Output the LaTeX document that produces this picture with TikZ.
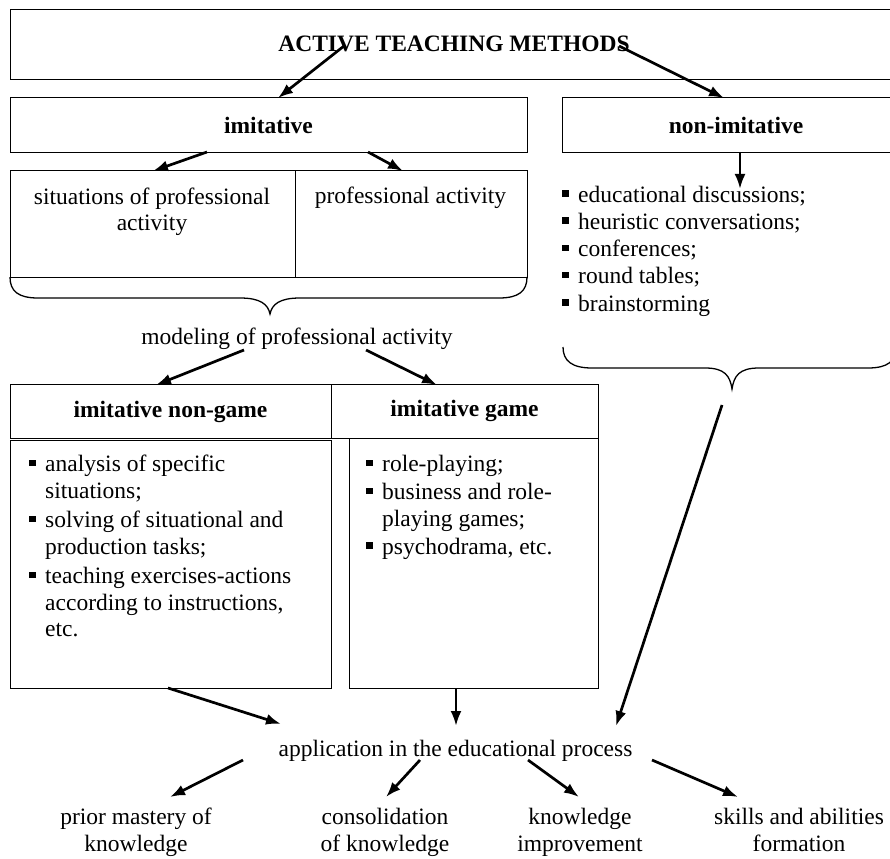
\documentclass[tikz,border=0pt]{standalone}
\usepackage{fontspec}
\setmainfont{Liberation Serif}
\usetikzlibrary{arrows.meta}
\newcommand{\fs}{\fontsize{23.5}{26.5}\selectfont}
\newcommand{\fsb}{\fontsize{23.5}{27.5}\selectfont}
\newcommand{\bl}{\makebox[16pt][l]{\rule[5.5pt]{6.5pt}{6.5pt}}}
\newcommand{\ind}{\hspace*{16pt}}
\begin{document}
\begin{tikzpicture}[x=1pt,y=-1pt,
  box/.style={draw, line width=1.3pt, inner sep=0pt, anchor=north west},
  txt/.style={inner sep=0pt, font=\fs},
  arr/.style={line width=2.7pt, -{Latex[length=15pt,width=11pt]}},
  brc/.style={line width=1.3pt}]
\useasboundingbox (0,0) rectangle (890,858);

% top level
\node[box, minimum width=888pt, minimum height=70pt] (top) at (10,9) {};
\node[txt, font=\fs\bfseries, anchor=base] (title) at (454,52) {ACTIVE TEACHING METHODS};
\node[box, minimum width=517pt, minimum height=55pt] (imit) at (10,97) {};
\node[txt, font=\fs\bfseries, anchor=base] (imitT) at (268.5,133.5) {imitative};
\node[box, minimum width=340pt, minimum height=55pt] (nonimit) at (562,97) {};
\node[txt, font=\fs\bfseries, anchor=base] (nonimitT) at (736,133.5) {non-imitative};

\coordinate (t1) at (344,46);  \coordinate (t1e) at (278,98);
\coordinate (t2) at (619,46);  \coordinate (t2e) at (724,98);
\draw[arr] (t1) -- (t1e);
\draw[arr] (t2) -- (t2e);

% imitative branch
\node[box, minimum width=285pt, minimum height=107pt] (sit) at (10,170) {};
\node[box, minimum width=232pt, minimum height=107pt] (prof) at (295,170) {};
\node[txt, align=center, anchor=north] (sitT) at (152,187.5) {situations of professional\\activity};
\node[txt, anchor=base] (profT) at (410.5,203.5) {professional activity};

\coordinate (i1) at (207,152); \coordinate (i1e) at (153,171);
\coordinate (i2) at (368,152); \coordinate (i2e) at (403,171);
\draw[arr] (i1) -- (i1e);
\draw[arr] (i2) -- (i2e);

\draw[brc] (10,277) .. controls (10,291) and (18,298) .. (38,298) -- (240,298)
  .. controls (260,298) and (268,304) .. (270,314)
  .. controls (272,304) and (280,298) .. (300,298) -- (499,298)
  .. controls (519,298) and (527,291) .. (527,277);

\node[txt, anchor=base] (model) at (297,344) {modeling of professional activity};
\coordinate (m1) at (244,350); \coordinate (m1e) at (156,385);
\coordinate (m2) at (366,350); \coordinate (m2e) at (437,385);
\draw[arr] (m1) -- (m1e);
\draw[arr] (m2) -- (m2e);

% lower boxes
\node[box, minimum width=321pt, minimum height=54pt] (hdrL) at (10,384) {};
\node[txt, font=\fs\bfseries, anchor=base] (hdrLT) at (170.5,417.5) {imitative non-game};
\node[box, minimum width=267pt, minimum height=54pt] (hdrR) at (331,384) {};
\node[txt, font=\fs\bfseries, anchor=base] (hdrRT) at (464.5,416) {imitative game};
\node[box, minimum width=321pt, minimum height=248pt] (lowL) at (10,440) {};
\node[box, minimum width=249pt, minimum height=250pt] (lowR) at (349,438) {};

\node[txt, align=left, anchor=north west] (listL) at (29,455) {%
\bl analysis of specific\\
\ind situations;\\[3pt]
\bl solving of situational and\\
\ind production tasks;\\[3pt]
\bl teaching exercises-actions\\
\ind according to instructions,\\
\ind etc.};
\node[txt, align=left, anchor=north west] (listR) at (366,455) {%
\bl role-playing;\\[1.5pt]
\bl business and role-\\
\ind playing games;\\[1.5pt]
\bl psychodrama, etc.};

% non-imitative branch
\coordinate (n1) at (740,152); \coordinate (n1e) at (740,189);
\draw[arr] (n1) -- (n1e);
\node[txt, align=left, anchor=north west, font=\fontsize{23.5}{27.3}\selectfont] (listN) at (562,185.5) {%
\bl educational discussions;\\
\bl heuristic conversations;\\
\bl conferences;\\
\bl round tables;\\
\bl brainstorming};

\draw[brc] (563,347) .. controls (563,361) and (572,368) .. (592,368) -- (705,368)
  .. controls (725,368) and (730,376) .. (732,389)
  .. controls (734,376) and (739,368) .. (759,368) -- (868,368)
  .. controls (888,368) and (896,361) .. (896,347);

% application
\node[txt, anchor=base] (app) at (455.5,756) {application in the educational process};
\coordinate (r1) at (722,405); \coordinate (r1e) at (616,726);
\coordinate (l1) at (168,688); \coordinate (l1e) at (281,724);
\coordinate (c1) at (456,688); \coordinate (c1e) at (456,726);
\draw[arr] (r1) -- (r1e);
\draw[arr] (l1) -- (l1e);
\draw[arr] (c1) -- (c1e);

\coordinate (a1) at (243,760); \coordinate (a1e) at (170,797);
\coordinate (a2) at (420,760); \coordinate (a2e) at (386,797);
\coordinate (a3) at (528,760); \coordinate (a3e) at (579,797);
\coordinate (a4) at (652,760); \coordinate (a4e) at (738,797);
\draw[arr] (a1) -- (a1e);
\draw[arr] (a2) -- (a2e);
\draw[arr] (a3) -- (a3e);
\draw[arr] (a4) -- (a4e);

\node[txt, align=center, anchor=north, font=\fsb] (b1) at (136,807.5) {prior mastery of\\knowledge};
\node[txt, align=center, anchor=north, font=\fsb] (b2) at (385,807.5) {consolidation\\of knowledge};
\node[txt, align=center, anchor=north, font=\fsb] (b3) at (580,807.5) {knowledge\\improvement};
\node[txt, align=center, anchor=north, font=\fsb] (b4) at (799,807.5) {skills and abilities\\formation};
\end{tikzpicture}
\end{document}
